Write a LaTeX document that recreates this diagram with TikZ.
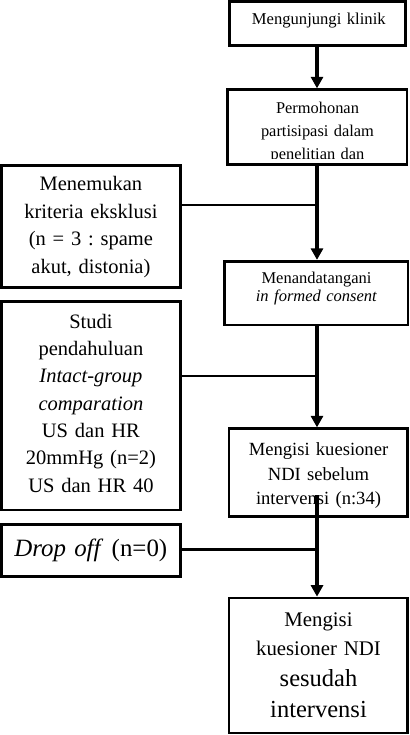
\documentclass[tikz,border=0pt]{standalone}
\usepackage{fontspec}
\setmainfont{Liberation Serif}
\usetikzlibrary{arrows.meta}
\frenchspacing
\begin{document}
\begin{tikzpicture}[x=1pt,y=-1pt,
  box/.style={draw, rectangle, line width=2.7pt, inner sep=0pt},
  txt/.style={anchor=base, align=center, inner sep=0pt, text width=#1},
  varrow/.style={line width=3.5pt, -{Triangle[width=12pt,length=11.5pt]}},
  hline/.style={line width=2.2pt}]
\useasboundingbox (0,0) rectangle (409,735);
% boxes
\node[box, minimum width=176.1pt, minimum height=44pt]  (b1) at (317.75,23.3) {};
\node[box, minimum width=179.5pt, minimum height=74.8pt] (b2) at (317.25,127.1) {};
\node[box, minimum width=183.3pt, minimum height=63.8pt] (b3) at (316.35,293.1) {};
\node[box, minimum width=178.7pt, minimum height=87.6pt] (b4) at (318.35,472.5) {};
\node[box, minimum width=178.7pt, minimum height=135pt]  (b5) at (318.35,665.5) {};
\node[box, minimum width=179.2pt, minimum height=122.4pt] (l1) at (90.9,226.5) {};
\node[box, minimum width=179.2pt, minimum height=208.5pt] (l2) at (90.9,405.75) {};
\node[box, minimum width=179pt, minimum height=52.1pt]  (l3) at (90.8,550.25) {};
% texts
\node[txt=170pt, font=\fontsize{16.6}{20}\selectfont] (t1) at (318.8,25) {Mengunjungi klinik};
\begin{scope}
\clip (229,91) rectangle (406,158.5);
\node[txt=170pt, font=\fontsize{16.4}{23.3}\selectfont] (t2) at (317.5,113.3) {Permohonan\\partisipasi dalam\\penelitian dan};
\end{scope}
\node[txt=175pt, font=\fontsize{16.5}{18.4}\selectfont] (t3) at (316.5,283.3) {Menandatangani\\\textit{in formed consent}};
\node[txt=170pt, font=\fontsize{18.6}{24.3}\selectfont] (t4) at (318.5,455.7) {Mengisi kuesioner\\NDI sebelum\\intervensi (n:34)};
\node[txt=170pt, font=\fontsize{20.8}{29}\selectfont] (t5) at (318.5,626) {Mengisi\\kuesioner NDI\\[2pt]\fontsize{24.5}{29}\selectfont sesudah\\[2pt]intervensi};
\node[txt=170pt, font=\fontsize{20.5}{27.6}\selectfont] (tl1) at (90.9,190.7) {Menemukan\\kriteria eksklusi\\(n = 3 : spame\\akut, distonia)};
\node[txt=170pt, font=\fontsize{20.5}{27.3}\selectfont] (tl2) at (90.9,328.3) {Studi\\pendahuluan\\\textit{Intact-group}\\\textit{comparation}\\US dan HR\\20mmHg (n=2)\\US dan HR 40};
\node[txt=175pt, font=\fontsize{24.9}{28}\selectfont] (tl3) at (90.8,556.7) {\textit{Drop off} (n=0)};
% connectors
\coordinate (spine) at (317,0);
\coordinate (j1) at (317,205);
\coordinate (j2) at (317,376.2);
\coordinate (j3) at (317,549.5);
\coordinate (b4out) at (317,495);
\draw[varrow] (b1.south -| spine) -- (b2.north -| spine);
\draw[varrow] (b2.south -| spine) -- (b3.north -| spine);
\draw[varrow] (b3.south -| spine) -- (b4.north -| spine);
\draw[varrow] (b4out) -- (b5.north -| spine);
\draw[hline] (j1 -| l1.east) -- (j1);
\draw[hline] (j2 -| l2.east) -- (j2);
\draw[hline] (j3 -| l3.east) -- (j3);
\end{tikzpicture}
\end{document}
